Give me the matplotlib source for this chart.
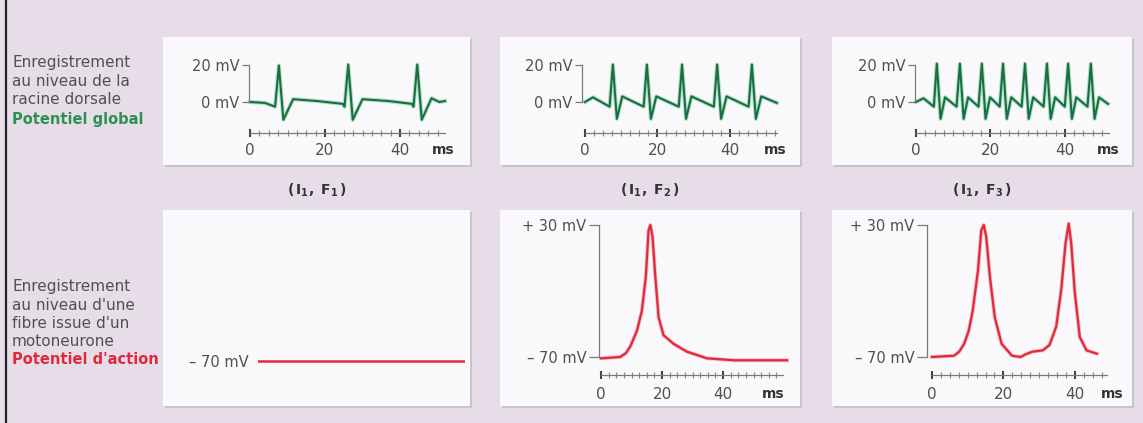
import numpy as np
import matplotlib
matplotlib.use("Agg")
import matplotlib.pyplot as plt
from matplotlib.patches import Rectangle
from matplotlib.ticker import FixedLocator

plt.rcParams['font.family'] = ['DejaVu Sans']
plt.rcParams['mathtext.fontset'] = 'dejavusans'

# ---------------- data ----------------
# top row: global potential at the dorsal root (mV vs ms)
glob1_t = [0, 4, 6.7, 7.7, 8.9, 11.5, 18, 24.8, 25.2, 26.2, 27.4, 30.0, 37, 43.2, 43.6, 44.6, 45.8, 48.4, 50.5, 52]
glob1_v = [0, -0.5, -2.5, 19.5, -9.5, 1.5, 0.5, -1, -2.5, 20, -9.5, 1.5, 0.5, -1, -2.5, 20, -9.5, 2, 0, 0.5]

glob2_t = [0, 2.2, 6.8, 7.7, 8.8, 10.3, 16.2, 17.1, 18.2, 19.7, 25.9, 26.8, 27.9, 29.4,
           35.6, 36.5, 37.6, 39.1, 45.2, 46.1, 47.2, 48.7, 53]
glob2_v = [0, 2.5, -2.5, 20, -9, 3, -2.5, 20, -9, 3, -2.5, 20, -9, 3,
           -2.5, 20, -9, 3, -2.5, 20, -9, 3, -0.5]

glob3_t = [0, 2.0, 4.8, 5.6, 6.6, 7.8, 10.9, 11.8, 12.8, 14.0, 16.8, 17.7, 18.7, 19.9,
           22.5, 23.4, 24.4, 25.6, 28.4, 29.3, 30.3, 31.5, 34.3, 35.2, 36.2, 37.4,
           40.0, 40.9, 41.9, 43.1, 46.1, 47.0, 48.0, 49.2, 51.6]
glob3_v = [0, 2, -2.5, 20.5, -9, 2.5, -2.5, 20.5, -9, 2.5, -2.5, 20.5, -9, 2.5,
           -2.5, 20.5, -9, 2.5, -2.5, 20.5, -9, 2.5, -2.5, 20.5, -9, 2.5,
           -2.5, 20.5, -9, 2.5, -2.5, 20.5, -9, 2.5, -1]

# bottom row: action potential of a motoneuron fibre (mV vs ms)
ap1_t = [0, 60]
ap1_v = [-70, -70]

ap2_t = [0, 6.3, 8.2, 9.6, 11.8, 13.4, 14.7, 15.6, 16.2, 16.9, 17.8, 18.9, 20.5, 23.8, 28.2, 34.8, 43.6, 61]
ap2_v = [-71, -70, -67, -62, -50, -35, -9, 26, 30, 21, -9, -40, -53.5, -60, -66, -71, -72.5, -72.5]

ap3_t = [0, 6.2, 7.6, 9, 10.3, 11.4, 12.9, 13.8, 14.5, 15.2, 16.2, 17.6, 19.5, 22.4, 24.8, 26.2,
         28.1, 31, 32.9, 34.8, 36.2, 37.4, 38.3, 39, 40, 41.4, 43.3, 46.2]
ap3_v = [-70, -69, -66, -60, -50, -35, -4, 26, 30, 21, -9, -40, -60, -69, -70, -68,
         -66, -65, -61, -47, -19, 16, 31, 16, -21, -55, -65, -67.5]

top_yticks = [0, 20]
top_ylabels = ["0 mV", "20 mV"]
bot_yticks = [-70, 30]
bot_ylabels = ["\u2013 70 mV", "+ 30 mV"]
xticks_major = [0, 20, 40]
xtick_labels = ["0", "20", "40"]
unit_label = "ms"

cond_labels = [r"$\mathbf{(\,I_1,\ F_1\,)}$", r"$\mathbf{(\,I_1,\ F_2\,)}$", r"$\mathbf{(\,I_1,\ F_3\,)}$"]
top_text = ["Enregistrement", "au niveau de la", "racine dorsale"]
top_title = "Potentiel global"
bot_text = ["Enregistrement", "au niveau d'une", "fibre issue d'un", "motoneurone"]
bot_title = "Potentiel d'action"

# ---------------- figure ----------------
W, H = 1143, 423
fig = plt.figure(figsize=(W / 100, H / 100), dpi=100)
BG = "#e6dde9"
fig.patch.set_facecolor(BG)
GREEN = "#17703e"
GREEN_L = "#4fb47f"
RED = "#e12a3b"
GRAYTXT = "#505050"
SPINE = "#7a7a7a"


def px_rect(x, y, w, h, **kw):
    fig.patches.append(Rectangle((x / W, 1 - (y + h) / H), w / W, h / H,
                                 transform=fig.transFigure, **kw))


def ftext(x, y, s, **kw):
    fig.text(x / W, 1 - y / H, s, **kw)


# left border line
fig.add_artist(plt.Line2D([6 / W, 6 / W], [0, 1], transform=fig.transFigure, color="#222", lw=1.6))

# panels
panels = [(163, 37, 307, 128), (500, 37, 300, 128), (832, 37, 300, 128),
          (163, 210, 307, 196), (500, 210, 300, 196), (832, 210, 300, 196)]
for (x, y, w, h) in panels:
    px_rect(x + 1.5, y + 2, w, h, facecolor="#c9c3cc", edgecolor="none", zorder=-20)
    px_rect(x, y, w, h, facecolor="#f9f9fc", edgecolor="none", zorder=-10)


def trace_axes(x0, sx, y0, v0, sy, xlim, ylim):
    left = x0 + xlim[0] * sx
    right = x0 + xlim[1] * sx
    top = y0 - (ylim[1] - v0) * sy
    bottom = y0 + (v0 - ylim[0]) * sy
    ax = fig.add_axes([left / W, 1 - bottom / H, (right - left) / W, (bottom - top) / H])
    ax.set_zorder(5)
    ax.set_xlim(xlim)
    ax.set_ylim(ylim)
    ax.patch.set_alpha(0)
    for s in ("top", "right"):
        ax.spines[s].set_visible(False)
    return ax


def style_axes(ax, xaxis_v, xend, ms_x, yaxis_t, yticks, ylabels, xpad, ylen):
    ax.spines["bottom"].set_position(("data", xaxis_v))
    ax.spines["bottom"].set_bounds(0, xend)
    ax.spines["left"].set_position(("data", yaxis_t))
    ax.spines["left"].set_bounds(min(yticks), max(yticks))
    for s in ("bottom", "left"):
        ax.spines[s].set_color(SPINE)
        ax.spines[s].set_linewidth(0.9)
    ax.set_yticks(yticks)
    ax.set_yticklabels(ylabels)
    ax.tick_params(axis="y", direction="out", length=ylen, width=0.9, color=SPINE,
                   pad=2, labelsize=10.5, labelcolor=GRAYTXT)
    ax.set_xticks(xticks_major)
    ax.set_xticklabels(xtick_labels)
    ax.xaxis.set_minor_locator(FixedLocator(np.arange(0, xend + 0.01, 2.5)))
    ax.tick_params(axis="x", which="major", direction="inout", length=6, width=1.5,
                   color="#444", pad=xpad, labelsize=11, labelcolor=GRAYTXT)
    ax.tick_params(axis="x", which="minor", direction="inout", length=4, width=0.8,
                   color="#888")
    ax.annotate(unit_label, xy=(ms_x, xaxis_v), xycoords="data",
                xytext=(0, -(xpad + 3)), textcoords="offset points",
                ha="center", va="top", fontsize=10, fontweight="bold", color="#333")


# ---- top row ----
top_specs = [
    (250, 3.75, glob1_t, glob1_v, 52, 51.5, -0.3),
    (585, 3.62, glob2_t, glob2_v, 53, 52.5, -0.8),
    (916, 3.72, glob3_t, glob3_v, 52, 51.6, -0.3),
]
for (x0, sx, tt, vv, xend, msx, yax) in top_specs:
    ax = trace_axes(x0, sx, 102, 0, 1.87, (-3, 56), (-20, 24))
    ax.plot(tt, vv, color=GREEN_L, lw=3.0, alpha=0.4, solid_joinstyle="round")
    ax.plot(tt, vv, color=GREEN, lw=1.5, solid_joinstyle="round")
    style_axes(ax, -16.8, xend, msx, yax, top_yticks, top_ylabels, xpad=4, ylen=5)

# ---- bottom row ----
ax = trace_axes(258, 207 / 60, 361, -70, 1.32, (0, 60), (-88, 36))
ax.plot(ap1_t, ap1_v, color=RED, lw=1.8)
for s in ("bottom", "left"):
    ax.spines[s].set_visible(False)
ax.set_xticks([])
ax.set_yticks([-70])
ax.set_yticklabels([bot_ylabels[0]])
ax.tick_params(axis="y", length=0, pad=7, labelsize=10.5, labelcolor=GRAYTXT)

bot_specs = [
    (601, 3.05, ap2_t, ap2_v, 59.7, 56.5, -0.7),
    (932, 3.57, ap3_t, ap3_v, 49, 50.5, -1.4),
]
for (x0, sx, tt, vv, xend, msx, yax) in bot_specs:
    ax = trace_axes(x0, sx, 357, -70, 1.32, (-4, 63), (-88, 36))
    ax.plot(tt, vv, color="#f07a85", lw=2.8, alpha=0.5, solid_joinstyle="round")
    ax.plot(tt, vv, color=RED, lw=1.6, solid_joinstyle="round")
    style_axes(ax, -83.6, xend, msx, yax, bot_yticks, bot_ylabels, xpad=6, ylen=7)

# ---- condition labels ----
for cx, lab in zip([317, 650, 982], cond_labels):
    ftext(cx, 190, lab, ha="center", va="center", fontsize=10, color="#333")

# ---- left texts ----
for i, s in enumerate(top_text):
    ftext(12, 62 + 19 * i, s, ha="left", va="center", fontsize=11, color=GRAYTXT)
ftext(12, 119, top_title, ha="left", va="center", fontsize=10.5, color="#2e8f55", fontweight="bold")
for i, s in enumerate(bot_text):
    ftext(12, 287 + 18 * i, s, ha="left", va="center", fontsize=11, color=GRAYTXT)
ftext(12, 359, bot_title, ha="left", va="center", fontsize=10.5, color=RED, fontweight="bold")

fig.savefig("out.png", dpi=100, facecolor=fig.get_facecolor())
